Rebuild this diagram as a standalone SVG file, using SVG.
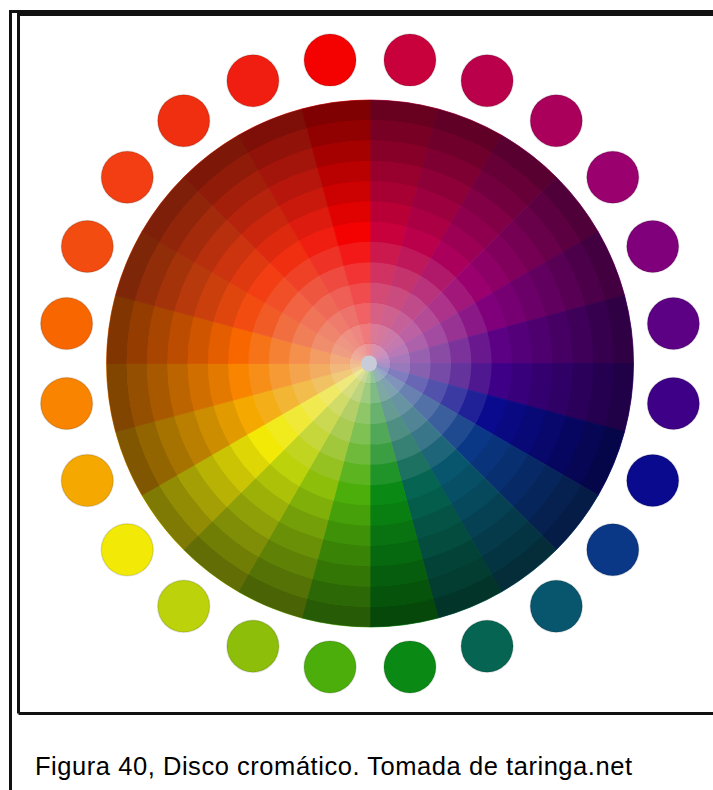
<svg xmlns="http://www.w3.org/2000/svg" width="713" height="790" viewBox="0 0 713 790">
<style>
.frame{fill:none;stroke:#111;stroke-width:3}
.w{stroke-width:0.8;stroke-linejoin:round}
.t{fill:none;stroke:#ECE8EC;stroke-width:20.3}
.s{fill:none;stroke:#000;stroke-width:20.3}
.dot{stroke:#000;stroke-opacity:0.12;stroke-width:1.5}
.cap{font-family:"Liberation Sans",Arial,sans-serif;font-size:25.5px;fill:#000}
</style>
<rect width="713" height="790" fill="#fff"/>
<g id="frame">
<path class="frame" d="M10.5 790 V11.5 H713"/>
<path class="frame" d="M18.5 713.5 V14.5 H713 M18.5 713.5 H713"/>
</g>
<g id="wheel">
<path class="w" fill="#C8003C" stroke="#C8003C" d="M370 363.5 L370 100 A263.5 263.5 0 0 1 438.2 108.98 Z"/>
<path class="w" fill="#BA004A" stroke="#BA004A" d="M370 363.5 L438.2 108.98 A263.5 263.5 0 0 1 501.75 135.3 Z"/>
<path class="w" fill="#AA005C" stroke="#AA005C" d="M370 363.5 L501.75 135.3 A263.5 263.5 0 0 1 556.32 177.18 Z"/>
<path class="w" fill="#9A006E" stroke="#9A006E" d="M370 363.5 L556.32 177.18 A263.5 263.5 0 0 1 598.2 231.75 Z"/>
<path class="w" fill="#80007C" stroke="#80007C" d="M370 363.5 L598.2 231.75 A263.5 263.5 0 0 1 624.52 295.3 Z"/>
<path class="w" fill="#5C0084" stroke="#5C0084" d="M370 363.5 L624.52 295.3 A263.5 263.5 0 0 1 633.5 363.5 Z"/>
<path class="w" fill="#3E0086" stroke="#3E0086" d="M370 363.5 L633.5 363.5 A263.5 263.5 0 0 1 624.52 431.7 Z"/>
<path class="w" fill="#0A0A8E" stroke="#0A0A8E" d="M370 363.5 L624.52 431.7 A263.5 263.5 0 0 1 598.2 495.25 Z"/>
<path class="w" fill="#0A3886" stroke="#0A3886" d="M370 363.5 L598.2 495.25 A263.5 263.5 0 0 1 556.32 549.82 Z"/>
<path class="w" fill="#08566E" stroke="#08566E" d="M370 363.5 L556.32 549.82 A263.5 263.5 0 0 1 501.75 591.7 Z"/>
<path class="w" fill="#056452" stroke="#056452" d="M370 363.5 L501.75 591.7 A263.5 263.5 0 0 1 438.2 618.02 Z"/>
<path class="w" fill="#0A8A14" stroke="#0A8A14" d="M370 363.5 L438.2 618.02 A263.5 263.5 0 0 1 370 627 Z"/>
<path class="w" fill="#4CAE0A" stroke="#4CAE0A" d="M370 363.5 L370 627 A263.5 263.5 0 0 1 301.8 618.02 Z"/>
<path class="w" fill="#8CBE0A" stroke="#8CBE0A" d="M370 363.5 L301.8 618.02 A263.5 263.5 0 0 1 238.25 591.7 Z"/>
<path class="w" fill="#BCD20A" stroke="#BCD20A" d="M370 363.5 L238.25 591.7 A263.5 263.5 0 0 1 183.68 549.82 Z"/>
<path class="w" fill="#F2EA06" stroke="#F2EA06" d="M370 363.5 L183.68 549.82 A263.5 263.5 0 0 1 141.8 495.25 Z"/>
<path class="w" fill="#F5A800" stroke="#F5A800" d="M370 363.5 L141.8 495.25 A263.5 263.5 0 0 1 115.48 431.7 Z"/>
<path class="w" fill="#F88400" stroke="#F88400" d="M370 363.5 L115.48 431.7 A263.5 263.5 0 0 1 106.5 363.5 Z"/>
<path class="w" fill="#F86600" stroke="#F86600" d="M370 363.5 L106.5 363.5 A263.5 263.5 0 0 1 115.48 295.3 Z"/>
<path class="w" fill="#F24C10" stroke="#F24C10" d="M370 363.5 L115.48 295.3 A263.5 263.5 0 0 1 141.8 231.75 Z"/>
<path class="w" fill="#F23E12" stroke="#F23E12" d="M370 363.5 L141.8 231.75 A263.5 263.5 0 0 1 183.68 177.18 Z"/>
<path class="w" fill="#F02E10" stroke="#F02E10" d="M370 363.5 L183.68 177.18 A263.5 263.5 0 0 1 238.25 135.3 Z"/>
<path class="w" fill="#F01E10" stroke="#F01E10" d="M370 363.5 L238.25 135.3 A263.5 263.5 0 0 1 301.8 108.98 Z"/>
<path class="w" fill="#F40202" stroke="#F40202" d="M370 363.5 L301.8 108.98 A263.5 263.5 0 0 1 370 100 Z"/>
<circle class="t" cx="370" cy="363.5" r="10.13" stroke-opacity="0.62"/>
<circle class="t" cx="370" cy="363.5" r="30.4" stroke-opacity="0.52"/>
<circle class="t" cx="370" cy="363.5" r="50.67" stroke-opacity="0.42"/>
<circle class="t" cx="370" cy="363.5" r="70.94" stroke-opacity="0.32"/>
<circle class="t" cx="370" cy="363.5" r="91.21" stroke-opacity="0.22"/>
<circle class="t" cx="370" cy="363.5" r="111.48" stroke-opacity="0.1"/>
<circle class="s" cx="370" cy="363.5" r="152.02" stroke-opacity="0.08"/>
<circle class="s" cx="370" cy="363.5" r="172.29" stroke-opacity="0.16"/>
<circle class="s" cx="370" cy="363.5" r="192.56" stroke-opacity="0.24"/>
<circle class="s" cx="370" cy="363.5" r="212.83" stroke-opacity="0.32"/>
<circle class="s" cx="370" cy="363.5" r="233.1" stroke-opacity="0.40"/>
<circle class="s" cx="370" cy="363.5" r="253.36" stroke-opacity="0.48"/>
<circle cx="369" cy="363.5" r="8" fill="#C8CCD8"/>
</g>
<g id="dots">
<circle id="d0" class="dot" cx="409.94" cy="60.12" r="26" fill="#C8003C"/>
<circle id="d1" class="dot" cx="487.1" cy="80.79" r="26" fill="#BA004A"/>
<circle id="d2" class="dot" cx="556.28" cy="120.73" r="26" fill="#AA005C"/>
<circle id="d3" class="dot" cx="612.77" cy="177.22" r="26" fill="#9A006E"/>
<circle id="d4" class="dot" cx="652.71" cy="246.4" r="26" fill="#80007C"/>
<circle id="d5" class="dot" cx="673.38" cy="323.56" r="26" fill="#5C0084"/>
<circle id="d6" class="dot" cx="673.38" cy="403.44" r="26" fill="#3E0086"/>
<circle id="d7" class="dot" cx="652.71" cy="480.6" r="26" fill="#0A0A8E"/>
<circle id="d8" class="dot" cx="612.77" cy="549.78" r="26" fill="#0A3886"/>
<circle id="d9" class="dot" cx="556.28" cy="606.27" r="26" fill="#08566E"/>
<circle id="d10" class="dot" cx="487.1" cy="646.21" r="26" fill="#056452"/>
<circle id="d11" class="dot" cx="409.94" cy="666.88" r="26" fill="#0A8A14"/>
<circle id="d12" class="dot" cx="330.06" cy="666.88" r="26" fill="#4CAE0A"/>
<circle id="d13" class="dot" cx="252.9" cy="646.21" r="26" fill="#8CBE0A"/>
<circle id="d14" class="dot" cx="183.72" cy="606.27" r="26" fill="#BCD20A"/>
<circle id="d15" class="dot" cx="127.23" cy="549.78" r="26" fill="#F2EA06"/>
<circle id="d16" class="dot" cx="87.29" cy="480.6" r="26" fill="#F5A800"/>
<circle id="d17" class="dot" cx="66.62" cy="403.44" r="26" fill="#F88400"/>
<circle id="d18" class="dot" cx="66.62" cy="323.56" r="26" fill="#F86600"/>
<circle id="d19" class="dot" cx="87.29" cy="246.4" r="26" fill="#F24C10"/>
<circle id="d20" class="dot" cx="127.23" cy="177.22" r="26" fill="#F23E12"/>
<circle id="d21" class="dot" cx="183.72" cy="120.73" r="26" fill="#F02E10"/>
<circle id="d22" class="dot" cx="252.9" cy="80.79" r="26" fill="#F01E10"/>
<circle id="d23" class="dot" cx="330.06" cy="60.12" r="26" fill="#F40202"/>
</g>
<text class="cap" x="35" y="775" textLength="597" lengthAdjust="spacing">Figura 40, Disco cromático. Tomada de taringa.net</text>
</svg>
